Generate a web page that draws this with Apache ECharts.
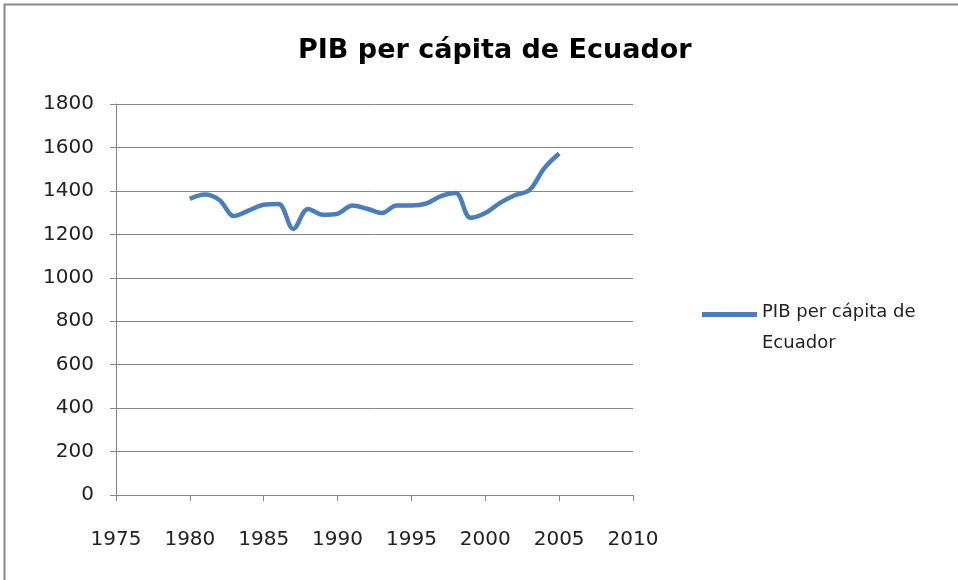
<!DOCTYPE html>
<html>
<head>
<meta charset="utf-8">
<script src="https://cdn.jsdelivr.net/npm/echarts@6/dist/echarts.min.js"></script>
<style>
  html, body { margin: 0; padding: 0; background: #fff; }
  #chart { width: 958px; height: 580px; }
</style>
</head>
<body>
<div id="chart"></div>
<script>
const chart = echarts.init(document.getElementById('chart'));

// years and GDP per capita
const years = [1980, 1981, 1982, 1983, 1984, 1985, 1986, 1987, 1988, 1989,
  1990, 1991, 1992, 1993, 1994, 1995, 1996, 1997, 1998, 1999,
  2000, 2001, 2002, 2003, 2004, 2005];
const pib = [1363, 1383, 1358, 1284, 1310, 1336, 1340, 1225, 1317, 1290,
  1295, 1333, 1318, 1298, 1333, 1333, 1342, 1376, 1390, 1276,
  1298, 1345, 1380, 1405, 1505, 1572];

const seriesName = 'PIB per cápita de Ecuador';
const legendLabel = 'PIB per cápita de\nEcuador';

const font = 'DejaVu Sans';
const axisGrey = '#868686';

// line icon sitting at the top of a taller box, so it lines up with the first text line
const legendIcon = 'path://M0,0 L55,0 L55,5 L0,5 Z M0,31.9 L0.05,31.9 L0.05,32 L0,32 Z';

const option = {
  animation: false,
  backgroundColor: '#fff',
  title: {
    text: seriesName,
    left: 293,
    top: 32,
    textStyle: { fontFamily: font, fontSize: 27, fontWeight: 'bold', color: '#000' }
  },
  legend: {
    left: 697,
    top: 292,
    orient: 'vertical',
    itemWidth: 55,
    itemHeight: 32,
    itemGap: 5,
    icon: legendIcon,
    formatter: () => legendLabel,
    textStyle: { fontFamily: font, fontSize: 18, color: '#222', lineHeight: 31 },
    data: [seriesName]
  },
  grid: { left: 116, right: 325, top: 104, bottom: 85 },
  xAxis: {
    type: 'value',
    min: 1975,
    max: 2010,
    interval: 5,
    axisLine: { lineStyle: { color: axisGrey, width: 1 } },
    axisTick: { show: true, length: 6, lineStyle: { color: axisGrey } },
    splitLine: { show: false },
    axisLabel: { margin: 35, fontFamily: font, fontSize: 20, color: '#222', formatter: v => String(v) }
  },
  yAxis: {
    type: 'value',
    min: 0,
    max: 1800,
    interval: 200,
    axisLine: { show: true, lineStyle: { color: axisGrey, width: 1 } },
    axisTick: { show: true, length: 6, lineStyle: { color: axisGrey } },
    splitLine: { lineStyle: { color: axisGrey, width: 1 } },
    axisLabel: { margin: 22, fontFamily: font, fontSize: 20, color: '#222', formatter: v => String(v) }
  },
  graphic: [{
    type: 'rect',
    shape: { x: 4.5, y: 4.5, width: 980, height: 620 },
    style: { fill: 'none', stroke: '#888', lineWidth: 2 },
    silent: true
  }],
  series: [{
    name: seriesName,
    type: 'line',
    data: years.map((y, i) => [y, pib[i]]),
    smooth: 0.35,
    showSymbol: false,
    lineStyle: { color: '#4a7ebb', width: 4.5 },
    itemStyle: { color: '#4a7ebb' }
  }]
};

chart.setOption(option);
</script>
</body>
</html>
